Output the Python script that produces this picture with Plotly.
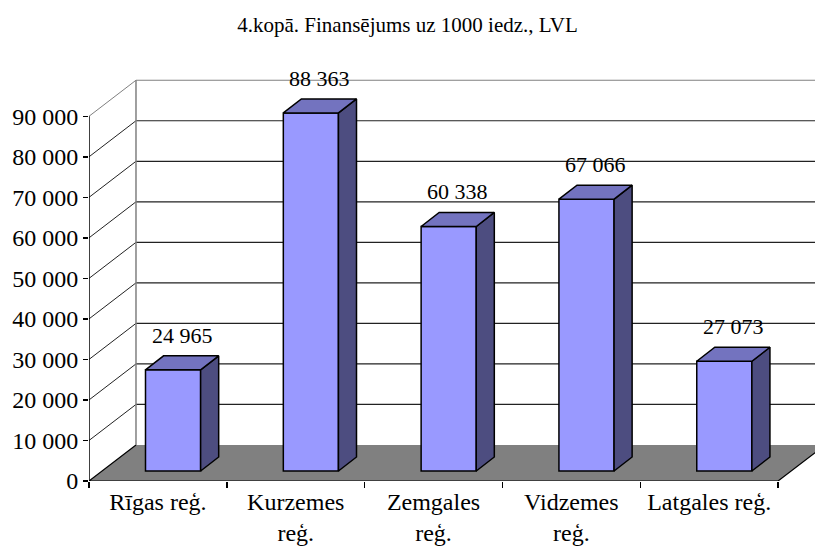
import plotly.graph_objects as go

# ---- data ----
categories = ["Rīgas reģ.", "Kurzemes<br>reģ.", "Zemgales<br>reģ.", "Vidzemes<br>reģ.", "Latgales reģ."]
values = [24965, 88363, 60338, 67066, 27073]
y_ticks = [0, 10000, 20000, 30000, 40000, 50000, 60000, 70000, 80000, 90000]
title_text = "4.kopā. Finansējums uz 1000 iedz., LVL"

# ---- geometry (in axis units) ----
FONT = "Liberation Serif"
n = len(categories)
X_MAX = 5.268          # x range end (plot runs past the floor, back wall clipped)
Y_MAX = 99200          # y range end
DX = 0.341             # wall depth, x units
DY = 8893              # wall depth, value units
BAR_W = 0.40           # bar front face width
BAR_C = 0.61           # bar front face centre offset in category
BAR_BASE = 2470        # floor depth offset of bar
BDX = 0.131            # bar depth, x units
BDY = 3460             # bar depth, value units

FRONT = "#9999FF"
SIDE = "#4D4D80"
TOP = "#7373BF"

fig = go.Figure()
shapes = []

# floor
shapes.append(dict(type="path", xref="x", yref="y", layer="below",
                   path=f"M 0 0 L {n} 0 L {n + DX} {DY} L {DX} {DY} Z",
                   fillcolor="#808080", line=dict(width=0)))
# floor edges
shapes.append(dict(type="path", xref="x", yref="y", layer="below",
                   path=f"M {DX} {DY} L 0 0 L {n} 0 L {n + DX} {DY}",
                   line=dict(color="black", width=1.2)))
# back wall gridlines + side wall diagonals
for v in y_ticks[1:]:
    top = v == y_ticks[-1]
    col = "#808080" if top else "#222222"
    shapes.append(dict(type="line", xref="x", yref="y", layer="below",
                       x0=DX, x1=X_MAX + 0.1, y0=v + DY, y1=v + DY,
                       line=dict(color=col, width=1.2)))
    shapes.append(dict(type="line", xref="x", yref="y", layer="below",
                       x0=0, x1=DX, y0=v, y1=v + DY,
                       line=dict(color=col, width=1)))
# back wall left edge
shapes.append(dict(type="line", xref="x", yref="y", layer="below",
                   x0=DX, x1=DX, y0=DY, y1=y_ticks[-1] + DY,
                   line=dict(color="#808080", width=1.5)))
# front value axis line
shapes.append(dict(type="line", xref="x", yref="y", layer="below",
                   x0=0, x1=0, y0=0, y1=y_ticks[-1],
                   line=dict(color="black", width=1.5)))

# bars: front faces
xc = [i + BAR_C for i in range(n)]
fig.add_trace(go.Bar(x=xc, y=values, base=[BAR_BASE] * n, width=BAR_W,
                     marker=dict(color=FRONT, line=dict(color="black", width=1.5)),
                     hoverinfo="skip", showlegend=False))

# bars: sides and tops
for i, v in enumerate(values):
    x0 = xc[i] - BAR_W / 2
    x1 = xc[i] + BAR_W / 2
    yb = BAR_BASE
    yt = BAR_BASE + v
    fig.add_trace(go.Scatter(
        x=[x1, x1 + BDX, x1 + BDX, x1, x1],
        y=[yb, yb + BDY, yt + BDY, yt, yb],
        fill="toself", fillcolor=SIDE, mode="lines",
        line=dict(color="black", width=1.5), hoverinfo="skip", showlegend=False))
    fig.add_trace(go.Scatter(
        x=[x0, x1, x1 + BDX, x0 + BDX, x0],
        y=[yt, yt, yt + BDY, yt + BDY, yt],
        fill="toself", fillcolor=TOP, mode="lines",
        line=dict(color="black", width=1.5), hoverinfo="skip", showlegend=False))

# data labels
annotations = []
for i, v in enumerate(values):
    annotations.append(dict(
        x=xc[i] + BDX / 2, y=BAR_BASE + v + BDY, xref="x", yref="y",
        text=f"{v:,}".replace(",", " "), showarrow=False,
        yanchor="bottom", yshift=6,
        font=dict(family=FONT, size=22, color="black")))

fig.update_layout(
    width=815, height=556,
    margin=dict(l=89, r=0, t=79, b=75),
    paper_bgcolor="white", plot_bgcolor="white",
    separators=". ",
    title=dict(text=title_text, x=0.5, xanchor="center",
               y=1 - 25 / 556, yanchor="middle", yref="container",
               font=dict(family=FONT, size=21, color="black")),
    shapes=shapes,
    annotations=annotations,
    font=dict(family=FONT, size=24, color="black"),
    xaxis=dict(range=[0, X_MAX], showgrid=False, zeroline=False, showline=False,
               automargin=False,
               tickmode="array", tickvals=[i + 0.5 for i in range(n)],
               ticktext=categories, ticks="", ticklabelstandoff=4,
               tickfont=dict(family=FONT, size=24, color="black"),
               minor=dict(tickmode="array", tickvals=list(range(n + 1)),
                          ticks="outside", ticklen=6, tickwidth=1.5,
                          tickcolor="black", showgrid=False),
               fixedrange=True),
    yaxis=dict(range=[0, Y_MAX], showgrid=False, zeroline=False, showline=False,
               automargin=False,
               tickmode="array", tickvals=y_ticks, tickformat=",d",
               ticks="outside", ticklen=5, tickwidth=1.5, tickcolor="black",
               tickfont=dict(family=FONT, size=24, color="black"),
               fixedrange=True),
    bargap=0,
)

fig.write_html("out.html",
               config={"displayModeBar": False, "staticPlot": True},
               post_script="document.body.style.margin='0';document.body.style.overflow='hidden';")
